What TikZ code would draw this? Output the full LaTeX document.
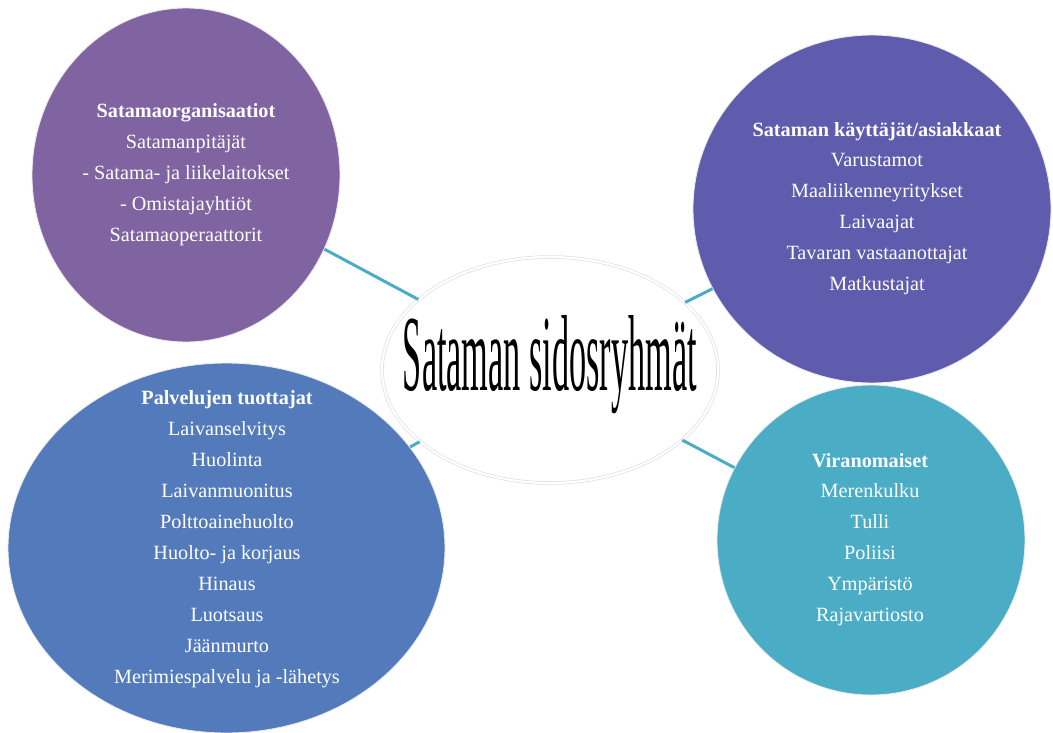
\documentclass[tikz,border=0pt]{standalone}
\usepackage{fontspec}
\setmainfont{Liberation Serif}
\usepackage{graphicx}
\usetikzlibrary{shapes.geometric}

\definecolor{violetti}{HTML}{8064A2}
\definecolor{sinivioletti}{HTML}{5F5BAD}
\definecolor{sininen}{HTML}{537BBC}
\definecolor{turkoosi}{HTML}{4BACC6}

\tikzset{
  ryhma/.style={ellipse, draw=black!8, line width=0.5pt, inner sep=0pt},
  teksti/.style={text=white, align=center, inner sep=0pt,
    font=\fontsize{11.5}{17.6}\selectfont},
  yhteys/.style={turkoosi, line width=1.7pt}
}

\begin{document}
\begin{tikzpicture}
    \useasboundingbox (0,0) rectangle (21.06,-14.66);

    % Keskiellipsi
    \node[ellipse, draw=black!12, double=white, double distance=1.2pt,
          minimum width=6.72cm, minimum height=4.52cm, inner sep=0pt]
          (keski) at (11.0,-7.40) {};
    \node[inner sep=0pt] (otsikko) at (11.0,-7.30)
          {\resizebox{5.88cm}{1.5cm}{Sataman sidosryhmät}};

    % Sidosryhmät
    \node[ryhma, fill=violetti, minimum width=6.16cm, minimum height=6.68cm]
          (org) at (3.72,-3.50) {};
    \node[ryhma, fill=sinivioletti, minimum width=7.16cm, minimum height=6.96cm]
          (kayt) at (17.44,-4.18) {};
    \node[ryhma, fill=sininen, minimum width=8.74cm, minimum height=7.40cm]
          (palv) at (4.53,-10.96) {};
    \node[ryhma, fill=turkoosi, minimum width=6.16cm, minimum height=6.20cm]
          (vir) at (17.42,-10.80) {};

    % Tekstit
    \node[teksti] (org-t) at (3.72,-3.49)
          {\textbf{Satamaorganisaatiot}\\ Satamanpitäjät\\ - Satama- ja liikelaitokset\\
           - Omistajayhtiöt\\ Satamaoperaattorit};
    \node[teksti] (kayt-t) at (17.54,-4.17)
          {\textbf{Sataman käyttäjät/asiakkaat}\\ Varustamot\\ Maaliikenneyritykset\\
           Laivaajat\\ Tavaran vastaanottajat\\ Matkustajat};
    \node[teksti] (palv-t) at (4.54,-10.78)
          {\textbf{Palvelujen tuottajat}\\ Laivanselvitys\\ Huolinta\\ Laivanmuonitus\\
           Polttoainehuolto\\ Huolto- ja korjaus\\ Hinaus\\ Luotsaus\\ Jäänmurto\\
           Merimiespalvelu ja -lähetys};
    \node[teksti] (vir-t) at (17.40,-10.79)
          {\textbf{Viranomaiset}\\ Merenkulku\\ Tulli\\ Poliisi\\ Ympäristö\\ Rajavartiosto};

    % Yhteydet
    \foreach \ryhma in {org,kayt,palv,vir}
        \draw[yhteys] (keski) -- (\ryhma);
\end{tikzpicture}
\end{document}
